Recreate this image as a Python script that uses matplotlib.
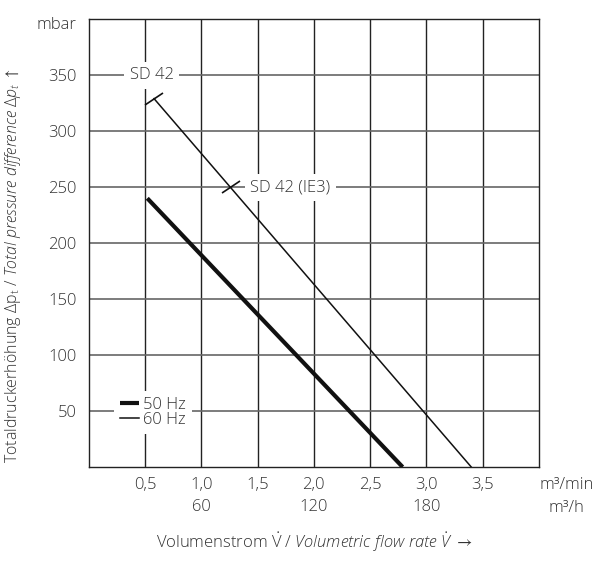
import matplotlib
matplotlib.use("Agg")
import matplotlib.pyplot as plt
from matplotlib.markers import MarkerStyle
from matplotlib.transforms import Affine2D

plt.rcParams['font.family'] = ['Open Sans', 'DejaVu Sans']
plt.rcParams['font.weight'] = 'light'
plt.rcParams['mathtext.fontset'] = 'custom'
plt.rcParams['mathtext.rm'] = 'Open Sans:light'
plt.rcParams['mathtext.it'] = 'Open Sans:italic:light'
plt.rcParams['mathtext.fallback'] = 'stixsans'

TXT = '#333333'
FS = 12

# data
x_ticks = [0.5, 1.0, 1.5, 2.0, 2.5, 3.0, 3.5]
x_ticklabels = ['0,5', '1,0', '1,5', '2,0', '2,5', '3,0', '3,5']
h_ticks = [60, 120, 180]
y_ticks = [50, 100, 150, 200, 250, 300, 350]
y_ticklabels = ['50', '100', '150', '200', '250', '300', '350']

flow_50hz = [0.52, 2.79]
press_50hz = [240, 0]
flow_60hz = [0.58, 3.40]
press_60hz = [329, 0]
mark_flow = [0.58, 1.26]
mark_press = [329, 250]

fig = plt.figure(figsize=(6.04, 5.62), dpi=100)
ax = fig.add_axes([0.147, 0.169, 0.745, 0.797])
ax.set_xlim(0, 4)
ax.set_ylim(0, 400)

# grid
for x in x_ticks:
    ax.axvline(x, color='#222222', lw=1.0, zorder=1)
for y in y_ticks:
    ax.axhline(y, color='#666666', lw=1.2, zorder=1)
for s in ax.spines.values():
    s.set_color('#222222')
    s.set_linewidth(1.0)

l50, = ax.plot(flow_50hz, press_50hz, color='#111111', lw=3.0,
               solid_capstyle='butt', zorder=3, label='50 Hz')
l60, = ax.plot(flow_60hz, press_60hz, color='#111111', lw=1.1,
               zorder=3, label='60 Hz')
tick_marker = MarkerStyle('|', transform=Affine2D().rotate_deg(-55))
ax.plot(mark_flow, mark_press, ls='none', marker=tick_marker,
        ms=16, mec='#111111', mew=1.2, zorder=3)

box = dict(facecolor='white', edgecolor='none', pad=4)
ax.text(0.56, 350, 'SD 42', ha='center', va='center', fontsize=FS,
        color=TXT, bbox=box, zorder=4)
ax.text(1.79, 250, 'SD 42 (IE3)', ha='center', va='center', fontsize=FS,
        color=TXT, bbox=box, zorder=4)

leg = ax.legend(handles=[l50, l60], loc='center', bbox_to_anchor=(0.57, 49),
                bbox_transform=ax.transData, frameon=True, fancybox=False,
                framealpha=1, edgecolor='none', fontsize=FS,
                handlelength=1.15, handletextpad=0.25, labelspacing=-0.05,
                borderpad=0.35, borderaxespad=0)
for t in leg.get_texts():
    t.set_color(TXT)
leg.set_zorder(5)

ax.set_xticks(x_ticks, x_ticklabels)
ax.set_yticks(y_ticks, y_ticklabels)
ax.tick_params(length=0, labelsize=FS, labelcolor=TXT)
ax.tick_params(axis='x', pad=7)
ax.tick_params(axis='y', pad=9)

sec = ax.secondary_xaxis('bottom', functions=(lambda v: v * 60, lambda v: v / 60))
sec.set_xticks(h_ticks)
sec.tick_params(length=0, labelsize=FS, labelcolor=TXT, pad=23)
sec.spines['bottom'].set_visible(False)

ax.annotate('mbar', xy=(0, 400), xycoords='data', xytext=(-9, -4.5),
            textcoords='offset points', ha='right', va='center',
            fontsize=FS, color=TXT, annotation_clip=False)
ax.annotate('m³/min', xy=(4.25, 0), xycoords='data', xytext=(0, -13),
            textcoords='offset points', ha='center', va='center',
            fontsize=FS, color=TXT, annotation_clip=False)
ax.annotate('m³/h', xy=(4.25, 0), xycoords='data', xytext=(0, -29.5),
            textcoords='offset points', ha='center', va='center',
            fontsize=FS, color=TXT, annotation_clip=False)

fig.text(315 / 604, 1 - 542 / 562,
         r'Volumenstrom $\dot{\mathrm{V}}$ / $\mathit{Volumetric\ flow\ rate\ \dot{V}}$ $\rightarrow$',
         ha='center', va='center', fontsize=12, color=TXT)
fig.text(13 / 604, 1 - 266 / 562,
         r'Totaldruckerhöhung Δp$_\mathrm{t}$ / $\mathit{Total\ pressure\ difference\ Δp_t}$ $\uparrow$',
         ha='center', va='center', rotation=90, fontsize=11.5, color=TXT)

fig.savefig('out.png', dpi=100)
